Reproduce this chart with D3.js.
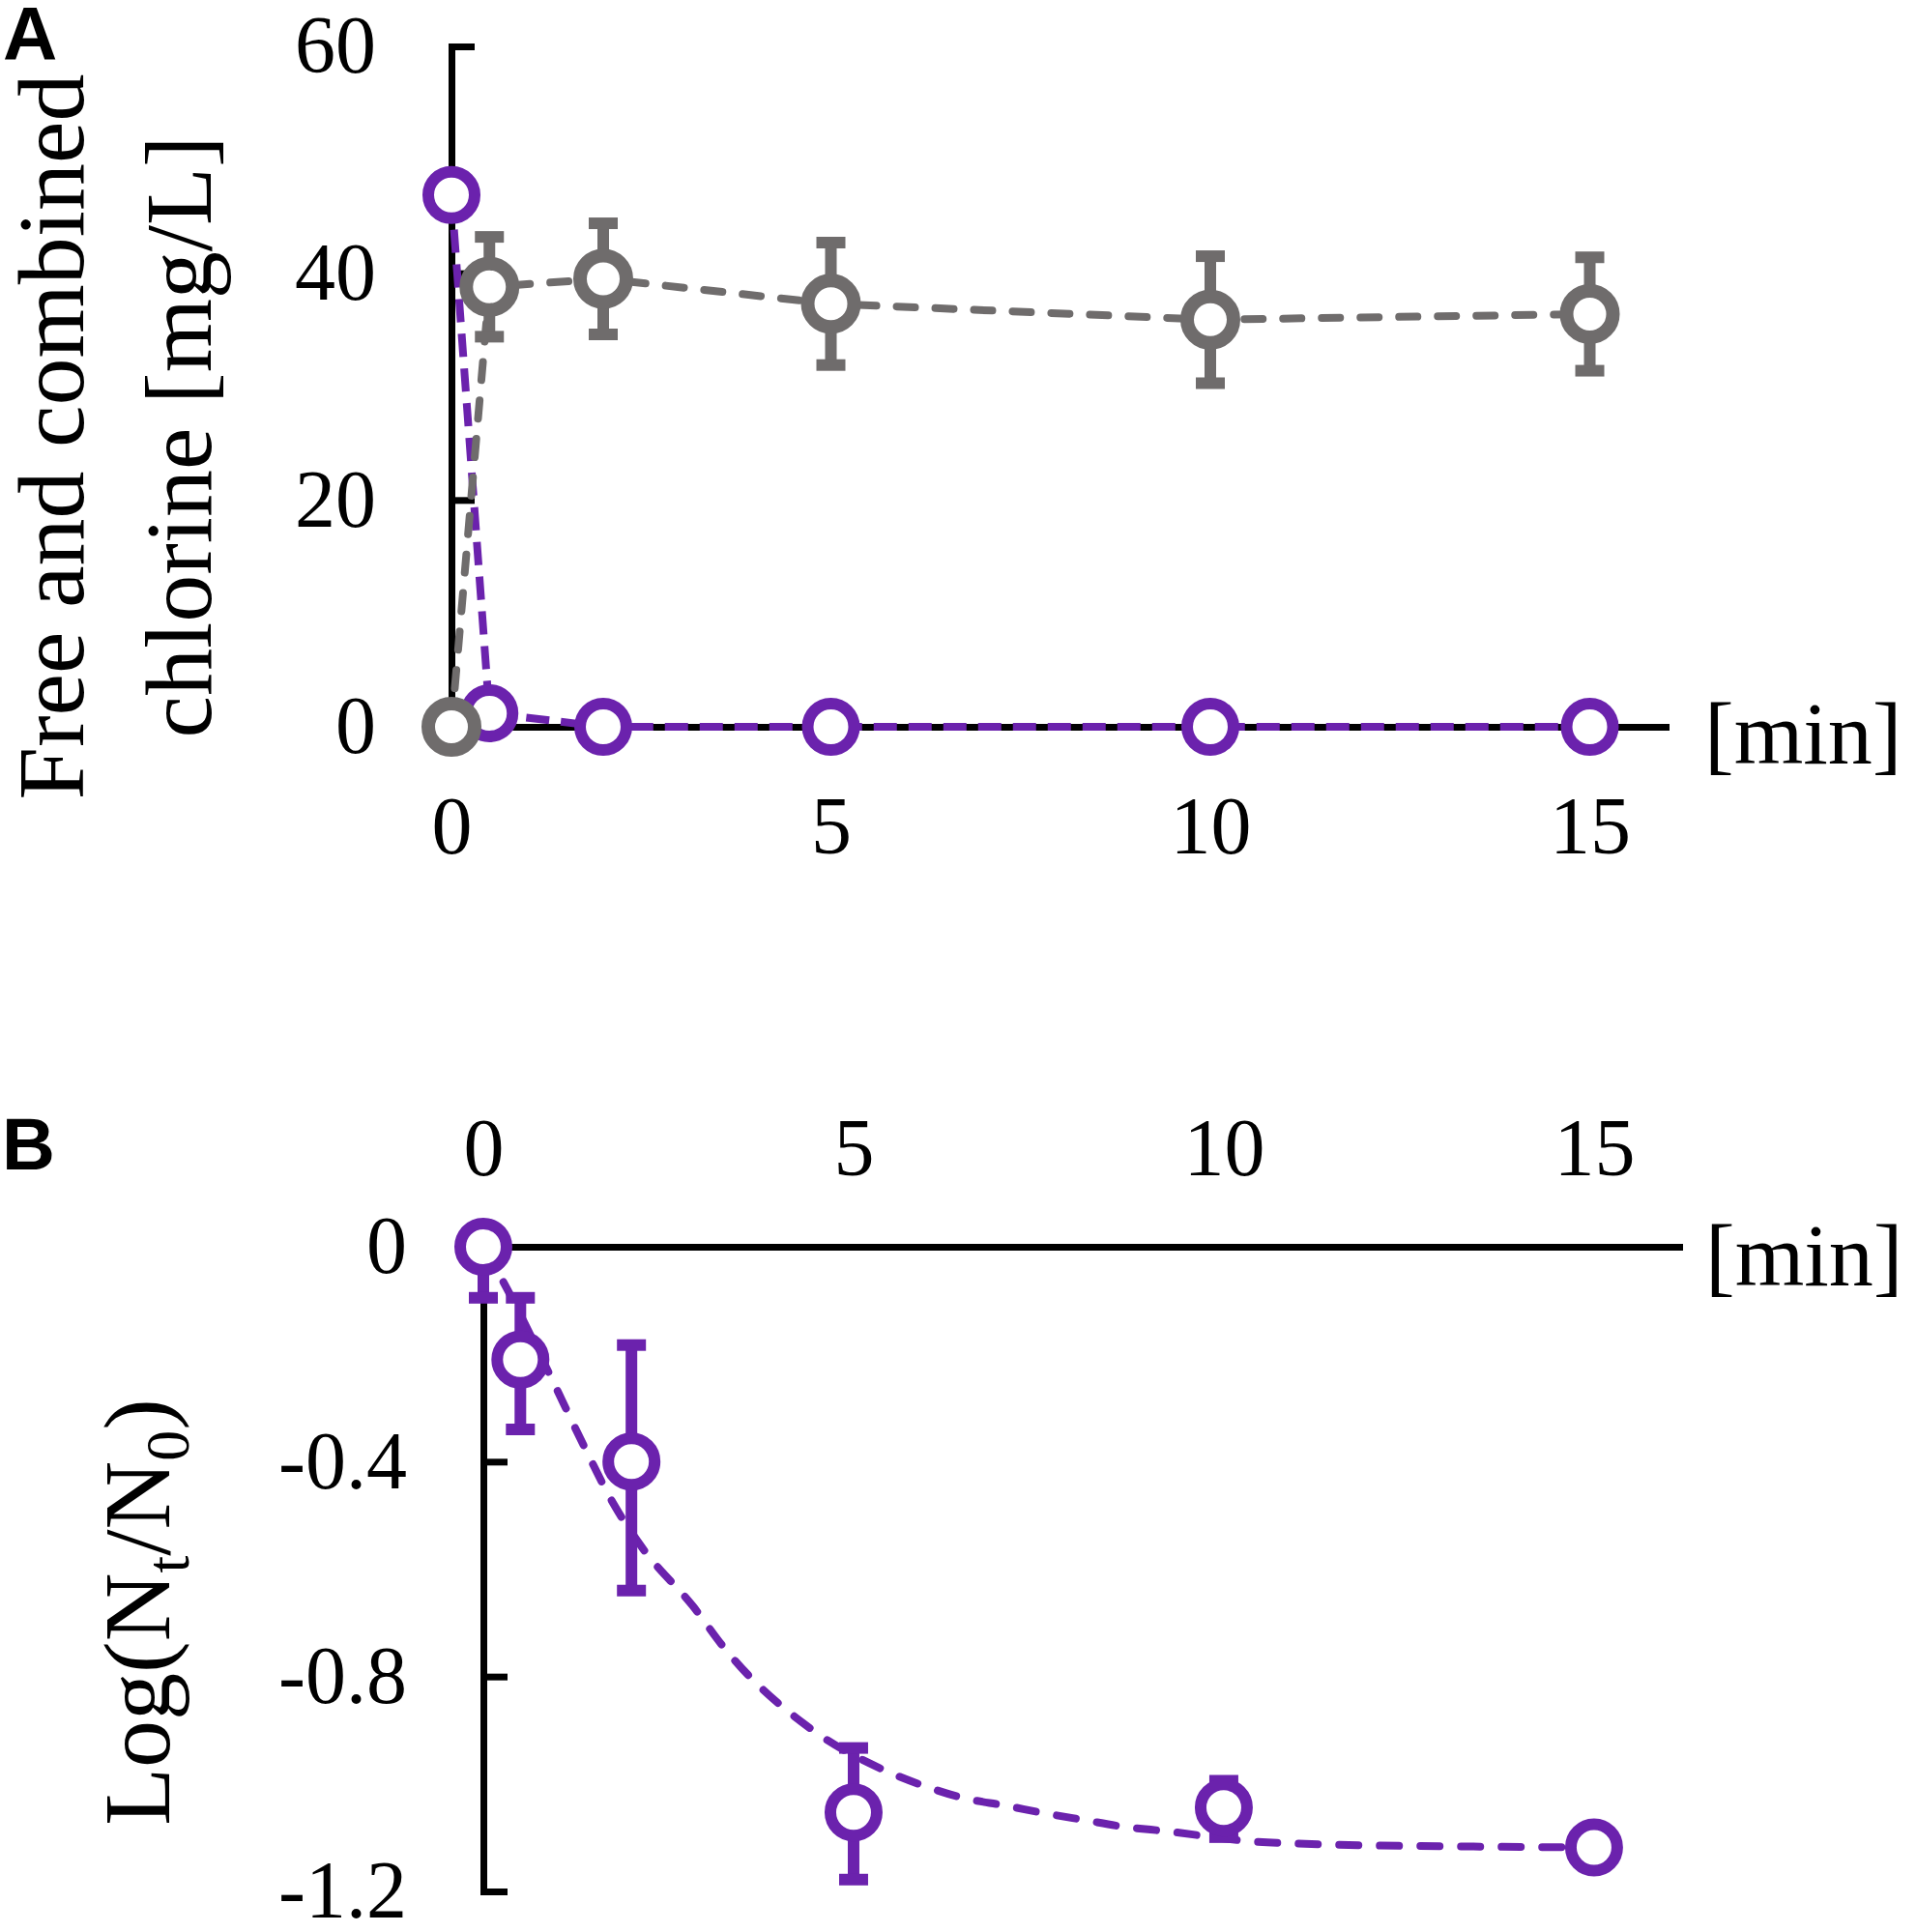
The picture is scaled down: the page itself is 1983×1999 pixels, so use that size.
<!DOCTYPE html>
<html>
<head>
<meta charset="utf-8">
<script src="https://cdn.jsdelivr.net/npm/d3@7"></script>
<style>
body { margin: 0; background: #fff; }
</style>
</head>
<body>
<svg id="chart"></svg>
<script>
const width = 1983;
const height = 1999;
const purple = "#6b22ad";
const grey = "#6f6c6c";
const serif = "'Liberation Serif', 'Times New Roman', serif";

// Panel A: free and combined chlorine [mg/L]
const timeA = [0, 0.5, 2, 5, 10, 15];
const freeChlorine = [46.9, 1.2, 0, 0, 0, 0];
const combinedChlorine = [0, 38.8, 39.5, 37.3, 35.9, 36.4];
const combinedErr = [0, 4.4, 4.9, 5.4, 5.6, 5.0];
const ticksAx = [0, 5, 10, 15];
const ticksAy = [0, 20, 40, 60];

// Panel B: Log(Nt/N0)
const timeB = [0, 0.5, 2, 5, 10, 15];
const logRed = [0, -0.21, -0.40, -1.053, -1.044, -1.118];
const errUpB = [0, 0.115, 0.217, 0.12, 0.05, 0];
const errDownB = [0.095, 0.13, 0.24, 0.125, 0.055, 0];
// fitted curve
const fitTime = [0, 0.26, 0.9, 1.38, 1.76, 2.15, 2.83, 3.26, 4.47, 5.41, 5.96, 6.48, 7.04, 7.6, 8.11, 8.67, 9.23, 10.3, 11.5, 13, 15];
const fitLog = [0, -0.063, -0.239, -0.377, -0.479, -0.561, -0.669, -0.748, -0.902, -0.974, -1.004, -1.026, -1.04, -1.055, -1.067, -1.08, -1.088, -1.106, -1.113, -1.116, -1.118];
const ticksBx = [0, 5, 10, 15];
const ticksBy = [0, -0.4, -0.8, -1.2];

const svg = d3.select("#chart").attr("width", width).attr("height", height);

const xA = d3.scaleLinear().domain([0, 16]).range([467, 1723]);
const yA = d3.scaleLinear().domain([0, 60]).range([752, 48]);
const xB = d3.scaleLinear().domain([0, 16.15]).range([500, 1737]);
const yB = d3.scaleLinear().domain([-1.2, 0]).range([1957, 1290]);

function styleAxis(g) {
    g.attr("font-size", 84).attr("font-family", serif);
    g.selectAll("path.domain").attr("stroke", "#000").attr("stroke-width", 7).attr("stroke-linecap", "square");
    g.selectAll(".tick line").attr("stroke", "#000").attr("stroke-width", 7);
    g.selectAll(".tick text").attr("fill", "#000");
}

// Axes A
svg.append("g")
    .attr("transform", `translate(0,${yA(0)})`)
    .call(d3.axisBottom(xA).tickValues(ticksAx).tickSize(0).tickSizeOuter(0).tickPadding(71))
    .call(styleAxis);
svg.append("g")
    .attr("transform", `translate(${xA(0)},0)`)
    .call(d3.axisLeft(yA).tickValues(ticksAy).tickSize(-24).tickSizeOuter(0).tickPadding(78))
    .call(styleAxis);

// Axes B
svg.append("g")
    .attr("transform", `translate(0,${yB(0)})`)
    .call(d3.axisTop(xB).tickValues(ticksBx).tickSize(0).tickSizeOuter(0).tickPadding(74))
    .call(styleAxis);
svg.append("g")
    .attr("transform", `translate(${xB(0)},0)`)
    .call(d3.axisLeft(yB).tickValues(ticksBy).tickSize(-25).tickSizeOuter(0).tickPadding(79)
        .tickFormat(d => d === 0 ? "0" : d.toFixed(1)))
    .call(styleAxis);

// Error bars and open circle markers
function drawSeries(x, y, times, values, errUp, errDown, color, sw) {
    const pts = times.map((t, i) => ({t, v: values[i], up: errUp[i], down: errDown[i]}));
    const g = svg.append("g");
    const bars = pts.filter(d => d.up > 0 || d.down > 0);
    g.selectAll("line.stem")
        .data(bars)
        .join("line")
        .attr("x1", d => x(d.t)).attr("x2", d => x(d.t))
        .attr("y1", d => y(d.v + d.up)).attr("y2", d => y(d.v - d.down))
        .attr("stroke", color).attr("stroke-width", 12);
    const caps = [];
    bars.forEach(d => {
        if (d.up > 0) caps.push({t: d.t, v: d.v + d.up});
        if (d.down > 0) caps.push({t: d.t, v: d.v - d.down});
    });
    g.selectAll("line.cap")
        .data(caps)
        .join("line")
        .attr("x1", d => x(d.t) - 15).attr("x2", d => x(d.t) + 15)
        .attr("y1", d => y(d.v)).attr("y2", d => y(d.v))
        .attr("stroke", color).attr("stroke-width", 12);
    g.selectAll("circle")
        .data(pts)
        .join("circle")
        .attr("cx", d => x(d.t)).attr("cy", d => y(d.v))
        .attr("r", 24)
        .attr("fill", "#fff")
        .attr("stroke", color).attr("stroke-width", sw);
}

const zerosA = timeA.map(() => 0);

// Panel A lines and markers
svg.append("path")
    .datum(timeA.map((t, i) => [t, freeChlorine[i]]))
    .attr("fill", "none").attr("stroke", purple).attr("stroke-width", 8)
    .attr("stroke-dasharray", "24,12")
    .attr("d", d3.line().x(d => xA(d[0])).y(d => yA(d[1])));
drawSeries(xA, yA, timeA, freeChlorine, zerosA, zerosA, purple, 12);

svg.append("path")
    .datum(timeA.map((t, i) => [t, combinedChlorine[i]]))
    .attr("fill", "none").attr("stroke", grey).attr("stroke-width", 8)
    .attr("stroke-dasharray", "19,21").attr("stroke-linecap", "round")
    .attr("d", d3.line().x(d => xA(d[0])).y(d => yA(d[1])));
drawSeries(xA, yA, timeA, combinedChlorine, combinedErr, combinedErr, grey, 14);

// Panel B fit and markers
svg.append("path")
    .datum(fitTime.map((t, i) => [t, fitLog[i]]))
    .attr("fill", "none").attr("stroke", purple).attr("stroke-width", 8)
    .attr("stroke-dasharray", "20,22").attr("stroke-linecap", "round")
    .attr("d", d3.line().curve(d3.curveMonotoneX).x(d => xB(d[0])).y(d => yB(d[1])));
drawSeries(xB, yB, timeB, logRed, errUpB, errDownB, purple, 12);

// Texts
svg.append("text").attr("x", 3).attr("y", 62)
    .attr("font-family", "'Liberation Sans', Arial, sans-serif").attr("font-weight", "bold")
    .attr("font-size", 78).text("A");
svg.append("text").attr("x", 2).attr("y", 1210)
    .attr("font-family", "'Liberation Sans', Arial, sans-serif").attr("font-weight", "bold")
    .attr("font-size", 76).text("B");

svg.append("text").attr("transform", "translate(86,452) rotate(-90)")
    .attr("text-anchor", "middle").attr("font-family", serif).attr("font-size", 98)
    .text("Free and combined");
svg.append("text").attr("transform", "translate(218,452) rotate(-90)")
    .attr("text-anchor", "middle").attr("font-family", serif).attr("font-size", 98)
    .text("chlorine [mg/L]");

const lb = svg.append("text").attr("transform", "translate(175,1668) rotate(-90)")
    .attr("text-anchor", "middle").attr("font-family", serif).attr("font-size", 98);
lb.append("tspan").text("Log(N");
lb.append("tspan").attr("font-size", 64).attr("dy", 20).text("t");
lb.append("tspan").attr("dy", -20).text("/N");
lb.append("tspan").attr("font-size", 64).attr("dy", 20).text("0");
lb.append("tspan").attr("dy", -20).text(")");

svg.append("text").attr("x", 1763).attr("y", 790)
    .attr("font-family", serif).attr("font-size", 92).text("[min]");
svg.append("text").attr("x", 1764).attr("y", 1330)
    .attr("font-family", serif).attr("font-size", 92).text("[min]");
</script>
</body>
</html>
